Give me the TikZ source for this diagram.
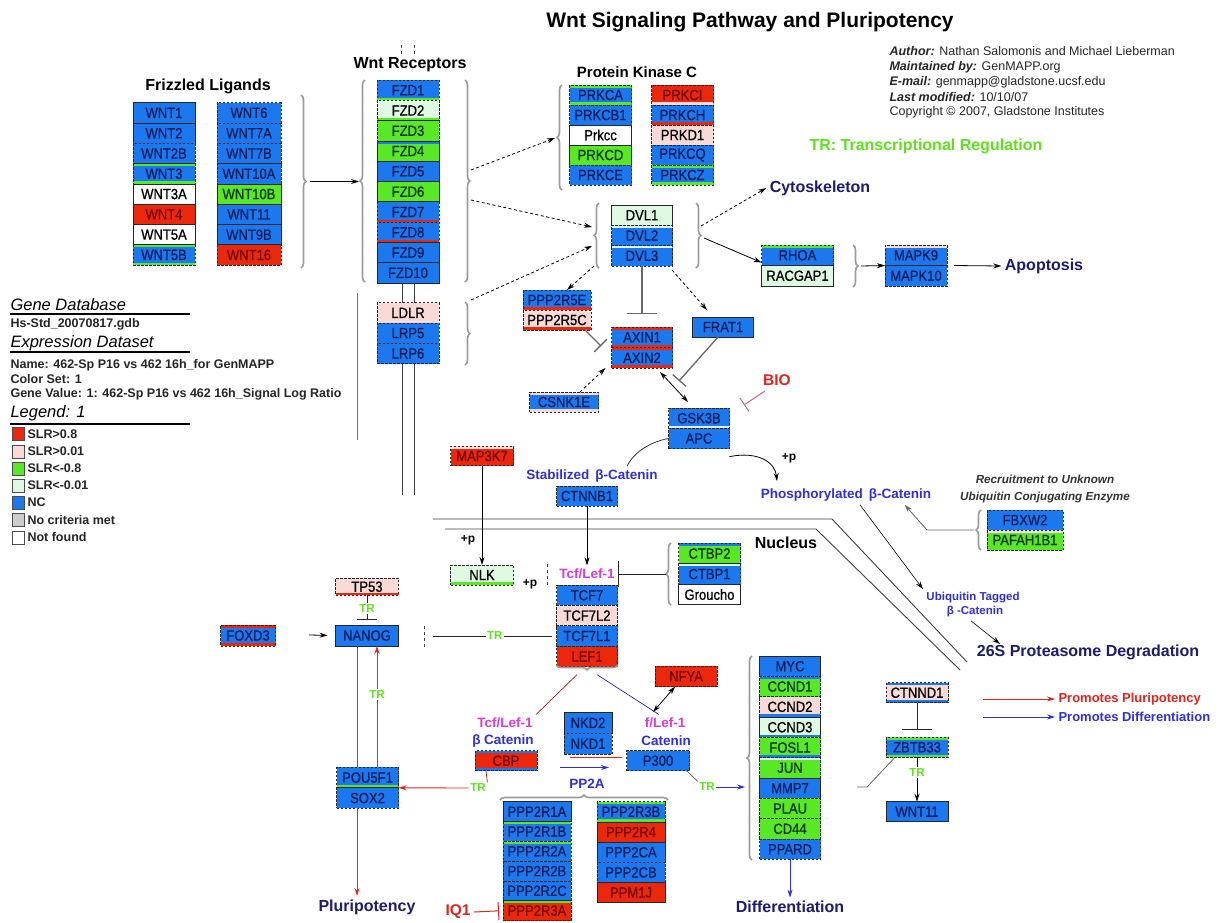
\documentclass[tikz,border=0pt]{standalone}
\usepackage{fontspec}
\setmainfont{Liberation Sans}
\newfontfamily\genefont{Liberation Sans}[FakeStretch=0.88,FakeBold=0.8]
\usetikzlibrary{arrows.meta,decorations.pathreplacing}
\definecolor{cNC}{RGB}{28,120,238}
\definecolor{cUP}{RGB}{236,40,12}
\definecolor{cUPL}{RGB}{250,218,215}
\definecolor{cDN}{RGB}{88,232,38}
\definecolor{cDNL}{RGB}{222,250,226}
\definecolor{cNO}{RGB}{205,205,205}
\definecolor{tNC}{RGB}{12,28,88}
\definecolor{tUP}{RGB}{110,8,0}
\definecolor{tDN}{RGB}{10,50,10}
\definecolor{cnavy}{RGB}{28,28,112}
\definecolor{cblue}{RGB}{48,48,215}
\definecolor{cmag}{RGB}{215,60,215}
\definecolor{cgreen}{RGB}{95,225,30}
\definecolor{cred}{RGB}{220,38,30}
\definecolor{cgray}{RGB}{155,155,155}
\definecolor{cline}{RGB}{105,105,105}
\definecolor{cpink}{RGB}{195,110,130}
\newcommand\myfs[1]{\fontsize{#1}{#1}\selectfont}
\newcommand\gn[6]{\node[gene,#4,minimum width=#5pt] (#1) at (#2,#3) {#6};}
\begin{document}
\begin{tikzpicture}[x=1pt,y=-1pt,
  gene/.style={rectangle,draw=black!85,line width=0.8pt,outer sep=0pt,inner sep=0pt,minimum height=20.3pt,font=\genefont\myfs{14.8}},
  nc/.style={fill=cNC,text=tNC},
  up/.style={fill=cUP,text=tUP},
  upl/.style={fill=cUPL,text=black},
  dn/.style={fill=cDN,text=tDN},
  dnl/.style={fill=cDNL,text=black},
  nf/.style={fill=white,text=black},
  dsh/.style={dash pattern=on 2.5pt off 1.5pt},
  stp/.style 2 args={path picture={
     \path[fill=#1] (path picture bounding box.north west) rectangle ([yshift=-2.6pt]path picture bounding box.north east);
     \path[fill=#2] (path picture bounding box.south west) rectangle ([yshift=2.6pt]path picture bounding box.south east);}},
  st/.style={stp={#1}{none}},
  sb/.style={stp={none}{#1}},
  h20/.style={minimum height=20pt},
  br/.style={draw=cgray,line width=1.6pt,decorate,decoration={brace,amplitude=5pt}},
  hdr/.style={font=\bfseries\myfs{#1}},
  navyl/.style={font=\bfseries\myfs{16},text=cnavy},
  bluel/.style={font=\bfseries\myfs{13.5},text=cblue},
  magl/.style={font=\bfseries\myfs{13.5},text=cmag},
  trl/.style={font=\bfseries\myfs{11.5},text=cgreen,fill=white,inner sep=1.5pt},
  pl/.style={font=\bfseries\myfs{12}},
  arr/.style={draw=black,line width=0.8pt,-{Stealth[length=8pt,width=5pt]}},
  darr/.style={arr,dash pattern=on 3pt off 2.5pt},
  arr2/.style={draw=black,line width=0.8pt,{Stealth[length=8pt,width=5pt]}-{Stealth[length=8pt,width=5pt]}},
  redarr/.style={draw=cred,line width=0.9pt,-{Stealth[length=8pt,width=5pt]}},
  bluarr/.style={draw=cblue,line width=0.9pt,-{Stealth[length=8pt,width=5pt]}},
  inh/.style={line width=1.3pt,-{Bar[width=#1]}},
  memb/.style={draw=black!75,line width=0.9pt},
  lsq/.style={draw=black!70,line width=0.6pt,minimum width=12pt,minimum height=13pt,inner sep=0pt},
  lgt/.style={anchor=west,font=\bfseries\myfs{12.5},text=black!85},
  lgh/.style={anchor=west,font=\itshape\myfs{16.5}},
  aut/.style={anchor=west,font=\myfs{12.5},text=black!85}
]
\useasboundingbox (0,0) rectangle (1221,922);
\fill[white] (0,0) rectangle (1221,922);

% ---------- title and author ----------
\node[font=\bfseries\myfs{21}] (title) at (750,22) {Wnt Signaling Pathway and Pluripotency};
\node[aut] (au1) at (886,51) {\textbf{\textit{Author:}} Nathan Salomonis and Michael Lieberman};
\node[aut] (au2) at (886,67) {\textbf{\textit{Maintained by:}} GenMAPP.org};
\node[aut] (au3) at (886,82) {\textbf{\textit{E-mail:}} genmapp@gladstone.ucsf.edu};
\node[aut] (au4) at (886,97) {\textbf{\textit{Last modified:}} 10/10/07};
\node[aut] (au5) at (886,112) {Copyright © 2007, Gladstone Institutes};
\node[font=\bfseries\myfs{16},text=cgreen] (trh) at (926,146) {TR: Transcriptional Regulation};

% ---------- left legend ----------
\node[lgh] (lgGD) at (7,305) {Gene Database};
\draw[line width=2pt] (10,313.5) -- (190,313.5);
\node[lgt] (lgDB) at (7,324) {Hs-Std\_20070817.gdb};
\node[lgh] (lgED) at (7,343) {Expression Dataset};
\draw[line width=2pt] (10,352) -- (190,352);
\node[lgt] (lgN) at (7,365) {Name: 462-Sp P16 vs 462 16h\_for GenMAPP};
\node[lgt] (lgC) at (7,379.5) {Color Set: 1};
\node[lgt] (lgV) at (7,394) {Gene Value: 1: 462-Sp P16 vs 462 16h\_Signal Log Ratio};
\node[lgh] (lgL) at (7,413) {Legend: 1};
\draw[line width=2pt] (10,423.5) -- (190,423.5);
\node[lsq,fill=cUP] (sq1) at (18.5,434) {};
\node[lgt] (lg1) at (24,434) {SLR>0.8};
\node[lsq,fill=cUPL] (sq2) at (18.5,451.5) {};
\node[lgt] (lg2) at (24,451.5) {SLR>0.01};
\node[lsq,fill=cDN] (sq3) at (18.5,468.5) {};
\node[lgt] (lg3) at (24,468.5) {SLR<-0.8};
\node[lsq,fill=cDNL] (sq4) at (18.5,485.5) {};
\node[lgt] (lg4) at (24,485.5) {SLR<-0.01};
\node[lsq,fill=cNC] (sq5) at (18.5,502.5) {};
\node[lgt] (lg5) at (24,502.5) {NC};
\node[lsq,fill=cNO] (sq6) at (18.5,520) {};
\node[lgt] (lg6) at (24,520) {No criteria met};
\node[lsq,fill=white] (sq7) at (18.5,537.5) {};
\node[lgt] (lg7) at (24,537.5) {Not found};

% ---------- Frizzled ligands ----------
\node[hdr=16] (tFL) at (208,86) {Frizzled Ligands};
\gn{WNT1}{164}{112.85}{nc}{62}{WNT1}
\gn{WNT2}{164}{133.15}{nc}{62}{WNT2}
\gn{WNT2B}{164}{153.45}{nc,dsh}{62}{WNT2B}
\gn{WNT3}{164}{173.75}{nc,dsh,stp={cDN}{cDN}}{62}{WNT3}
\gn{WNT3A}{164}{194.05}{nf}{62}{WNT3A}
\gn{WNT4}{164}{214.35}{up}{62}{WNT4}
\gn{WNT5A}{164}{234.65}{nf}{62}{WNT5A}
\gn{WNT5B}{164}{254.95}{nc,dsh,stp={cDN}{cDN}}{62}{WNT5B}
\gn{WNT6}{249}{112.85}{nc,dsh}{64}{WNT6}
\gn{WNT7A}{249}{133.15}{nc,dsh}{64}{WNT7A}
\gn{WNT7B}{249}{153.45}{nc,dsh}{64}{WNT7B}
\gn{WNT10A}{249}{173.75}{nc,dsh}{64}{WNT10A}
\gn{WNT10B}{249}{194.05}{dn}{64}{WNT10B}
\gn{WNT11L}{249}{214.35}{nc}{64}{WNT11}
\gn{WNT9B}{249}{234.65}{nc}{64}{WNT9B}
\gn{WNT16}{249}{254.95}{up,dsh}{64}{WNT16}
\draw[br] (301,95) -- (301,268);
\coordinate (ligTip) at (310,181.5);
\coordinate (recTip) at (359,181.5);
\draw[arr] (ligTip) -- (recTip);

% ---------- Wnt receptors ----------
\node[hdr=16] (tWR) at (410,65) {Wnt Receptors};
\draw[memb,dashed] (401,45) -- (401,57);
\draw[memb,dashed] (414,45) -- (414,57);
\draw[memb] (402,283) -- (402,303);
\draw[memb] (414,283) -- (414,303);
\draw[memb] (402,363) -- (402,495);
\draw[memb] (414,363) -- (414,495);
\draw[draw=black!55,line width=0.8pt] (357,293) -- (357,440);
\gn{FZD1}{408}{90.15}{nc,dsh,sb=cDN}{62}{FZD1}
\gn{FZD2}{408}{110.45}{dnl,dsh,sb=cDN}{62}{FZD2}
\gn{FZD3}{408}{130.75}{dn,dsh}{62}{FZD3}
\gn{FZD4}{408}{151.05}{dn,st=cNC}{62}{FZD4}
\gn{FZD5}{408}{171.35}{nc}{62}{FZD5}
\gn{FZD6}{408}{191.65}{dn}{62}{FZD6}
\gn{FZD7}{408}{211.95}{nc,dsh,sb=cUP}{62}{FZD7}
\gn{FZD8}{408}{232.25}{nc,dsh,sb=cUP}{62}{FZD8}
\gn{FZD9}{408}{252.55}{nc}{62}{FZD9}
\gn{FZD10}{408}{272.85}{nc}{62}{FZD10}
\gn{LDLR}{408}{312.85}{upl,dsh}{62}{LDLR}
\gn{LRP5}{408}{333.15}{nc,dsh}{62}{LRP5}
\gn{LRP6}{408}{353.45}{nc,dsh}{62}{LRP6}
\draw[br] (365,282) -- (365,80);
\draw[br] (465,80) -- (465,282);
\draw[br] (465,302) -- (465,365);

% ---------- Protein kinase C ----------
\node[hdr=15] (tPKC) at (637,72) {Protein Kinase C};
\gn{PRKCA}{600.5}{95}{nc,dsh,h20,stp={cDN}{cDN}}{62}{PRKCA}
\gn{PRKCB1}{600.5}{115}{nc,dsh,h20}{62}{PRKCB1}
\gn{Prkcc}{600.5}{135}{nf,h20}{62}{Prkcc}
\gn{PRKCD}{600.5}{155}{dn,h20}{62}{PRKCD}
\gn{PRKCE}{600.5}{175}{nc,dsh,h20}{62}{PRKCE}
\gn{PRKCI}{682.5}{95}{up,dsh,h20,sb=cUPL}{62}{PRKCI}
\gn{PRKCH}{682.5}{115}{nc,dsh,h20,sb=cUP}{62}{PRKCH}
\gn{PRKD1}{682.5}{135}{upl,dsh,h20}{62}{PRKD1}
\gn{PRKCQ}{682.5}{155}{nc,dsh,h20}{62}{PRKCQ}
\gn{PRKCZ}{682.5}{175}{nc,dsh,h20,stp={cDN}{cDN}}{62}{PRKCZ}
\draw[br] (562,190) -- (562,85);
\coordinate (fzA) at (471,170);
\coordinate (fzB) at (471,200);
\coordinate (ldA) at (471,300);
\coordinate (pkcTip) at (555,138);
\coordinate (dvlTipA) at (592,227);
\coordinate (dvlTipB) at (592,246);
\draw[darr] (fzA) -- (pkcTip);
\draw[darr] (fzB) -- (dvlTipA);
\draw[darr] (ldA) -- (dvlTipB);

% ---------- DVL ----------
\gn{DVL1}{642}{215.15}{dnl}{61}{DVL1}
\gn{DVL2}{642}{235.45}{nc,dsh,st=cDNL}{61}{DVL2}
\gn{DVL3}{642}{255.75}{nc,dsh,st=cDNL}{61}{DVL3}
\draw[br] (599,268) -- (599,203);
\draw[br] (696,203) -- (696,268);
\node[navyl] (tCyto) at (820,188) {Cytoskeleton};
\coordinate (dvlR1) at (701,226);
\coordinate (dvlR2) at (704,238);
\draw[darr] (dvlR1) -- (tCyto.west);
\gn{RHOA}{797.5}{255.25}{nc,dsh,st=cDN,minimum height=20.5pt}{72}{RHOA}
\gn{RACGAP1}{797.5}{275.75}{dnl,minimum height=20.5pt}{72}{RACGAP1}
\draw[arr] (dvlR2) -- ([yshift=3pt]RHOA.south west);
\draw[br] (853,245) -- (853,287);
\gn{MAPK9}{916}{255.25}{nc,dsh,st=cUPL,minimum height=20.5pt}{62}{MAPK9}
\gn{MAPK10}{916}{275.75}{nc,dsh,minimum height=20.5pt}{62}{MAPK10}
\coordinate (rhoTip) at (861,266);
\draw[arr] (rhoTip) -- (MAPK9.south west);
\node[navyl] (tApop) at (1044,266) {Apoptosis};
\draw[arr] ([xshift=7pt]MAPK9.south east) -- (tApop.west);

% ---------- destruction complex ----------
\gn{PPP2R5E}{557}{300}{nc,dsh,h20,sb=cUP}{68}{PPP2R5E}
\gn{PPP2R5C}{557}{320}{upl,dsh,h20,sb=cUP}{68}{PPP2R5C}
\coordinate (dvlBL) at (594,266);
\draw[darr] (dvlBL) -- ([xshift=10pt]PPP2R5E.north);
\gn{AXIN1}{642}{337.25}{nc,dsh,minimum height=20.5pt,stp={cUP}{cUP}}{61}{AXIN1}
\gn{AXIN2}{642}{357.75}{nc,dsh,minimum height=20.5pt,stp={cUP}{cUP}}{61}{AXIN2}
\draw[inh=30pt,draw=cline,shorten >=13pt] (DVL3.south) -- (AXIN1.north);
\gn{FRAT1}{723}{327}{nc,h20}{61}{FRAT1}
\coordinate (dvlBR) at (672,270);
\draw[darr] (dvlBR) -- ([xshift=-16pt,yshift=7pt]FRAT1.north);
\coordinate (p5cI) at (601,346);
\draw[inh=18pt,draw=cline] ([xshift=-6pt]PPP2R5C.south east) -- (p5cI);
\gn{CSNK1E}{564}{402}{nc,dsh,h20,stp={cUPL}{cUPL}}{69}{CSNK1E}
\draw[darr] ([xshift=16pt]CSNK1E.north) -- ([xshift=-6pt]AXIN2.south west);
\gn{GSK3B}{699}{418.15}{nc,dsh,sb=cDNL}{61}{GSK3B}
\gn{APC}{699}{438.45}{nc,dsh}{61}{APC}
\draw[arr2] ([xshift=18pt,yshift=-4pt]AXIN2.south) -- ([xshift=-11pt,yshift=6pt]GSK3B.north);
\coordinate (fraI) at (679,381);
\draw[inh=18pt,draw=cline] ([xshift=-5pt]FRAT1.south) -- (fraI);
\node[font=\bfseries\myfs{15.5},text=cred] (tBIO) at (777,380) {BIO};
\coordinate (bioI) at (744,405);
\draw[inh=16pt,draw=cpink,line width=1pt] ([xshift=-12pt,yshift=-11pt]tBIO.center) -- (bioI);

% ---------- beta-catenin ----------
\node[bluel] (tStab) at (592,476) {Stabilized\, β-Catenin};
\draw[draw=black!80,line width=0.8pt] (APC.west) .. controls (650,442) and (634,452) .. ([xshift=35pt]tStab.north);
\node[pl] (tP1) at (789,458) {+p};
\node[bluel] (tPhos) at (846,495) {Phosphorylated\, β-Catenin};
\coordinate (phosIn) at (777,481);
\draw[arr] ([yshift=-8pt]APC.south east) .. controls (758,451) and (775,462) .. (phosIn);
\gn{CTNNB1}{587}{496}{nc,dsh,h20}{61}{CTNNB1}
\gn{MAP3K7}{482}{456}{up,dsh,st=cUPL,minimum height=19.5pt}{63}{MAP3K7}
\gn{NLK}{482}{575}{dnl,dsh,h20,sb=cDN}{63}{NLK}
\draw[arr] (MAP3K7.south) -- (NLK.north);
\node[pl] (tP2) at (468,540) {+p};
\node[pl] (tP3) at (530,584) {+p};
\draw[memb,dashed] (547,564) -- (547,586);
\draw[memb,dashed] (424,626) -- (424,647);

% ---------- nucleus membrane ----------
\draw[memb] (433,519) -- (832,519) -- (967,662);
\draw[memb] (445,529) -- (816,529) -- (960,670);
\node[hdr=16] (tNuc) at (786,543) {Nucleus};

% ---------- TCF / LEF ----------
\node[magl] (tTcf) at (587,574) {Tcf/Lef-1};
\draw[arr] (CTNNB1.south) -- (tTcf.north);
\gn{TCF7}{587}{595.2}{nc,dsh,minimum height=20.4pt}{61}{TCF7}
\gn{TCF7L2}{587}{615.6}{upl,dsh,minimum height=20.4pt}{61}{TCF7L2}
\gn{TCF7L1}{587}{636}{nc,dsh,minimum height=20.4pt}{61}{TCF7L1}
\gn{LEF1}{587}{656.4}{up,dsh,minimum height=20.4pt}{61}{LEF1}
\draw[br] (618,665) -- (556,665);
\gn{CTBP2}{709.5}{553.55}{dn,dsh,st=cNC,minimum height=20.5pt}{62}{CTBP2}
\gn{CTBP1}{709.5}{574.05}{nc,dsh,st=cDNL,minimum height=20.5pt}{62}{CTBP1}
\gn{Groucho}{709.5}{594.55}{nf,minimum height=20.5pt}{62}{Groucho}
\draw[br] (671,605) -- (671,543);
\coordinate (ctbTip) at (666,574);
\draw[inh=26pt,draw=black!85,line width=1pt] (ctbTip) -- (tTcf.east);

% ---------- NANOG / POU5F1 ----------
\gn{TP53}{367}{586.7}{upl,dsh,minimum height=17pt,sb=cUP}{63}{TP53}
\gn{NANOG}{367}{635.5}{nc,minimum height=21pt}{63}{NANOG}
\gn{FOXD3}{248}{635.5}{nc,dsh,minimum height=21pt,stp={cUP}{cUP}}{55}{FOXD3}
\draw[inh=20pt,draw=black!85,line width=1pt,shorten >=5pt] (TP53.south) -- node[trl,pos=0.45] (trTP) {TR} (NANOG.north);
\coordinate (foxA) at (309,635);
\draw[arr,shorten >=8pt] (foxA) -- (NANOG.west);
\coordinate (nanR) at (433,636);
\draw[line width=0.8pt,draw=black!85,shorten >=5pt] (nanR) -- node[trl] (trNT) {TR} (TCF7L1.west);
\gn{POU5F1}{367.5}{777.55}{nc,dsh,sb=cDN,minimum height=20.5pt}{62}{POU5F1}
\gn{SOX2}{367.5}{798.05}{nc,dsh,minimum height=20.5pt}{62}{SOX2}
\draw[draw=cred,line width=0.9pt] ([xshift=-10pt]NANOG.south) -- ([xshift=-10.5pt]POU5F1.north);
\draw[redarr] ([xshift=9.5pt]POU5F1.north) -- node[trl,pos=0.6] (trNP) {TR} ([xshift=10pt]NANOG.south);
\node[navyl] (tPluri) at (367,907) {Pluripotency};
\draw[redarr] ([xshift=-10.5pt]SOX2.south) -- ([xshift=-10pt]tPluri.north);

% ---------- CBP / P300 ----------
\node[magl] (tTcfL) at (505,723) {Tcf/Lef-1};
\node[bluel] (tBcL) at (503,741) {β Catenin};
\gn{CBP}{506}{760.7}{up,dsh,h20,stp={cNC}{cNC}}{62}{CBP}
\node[magl] (tTcfR) at (665,723) {f/Lef-1};
\node[bluel] (tBcR) at (666,741) {Catenin};
\gn{P300}{658}{760.7}{nc,dsh,h20}{63}{P300}
\draw[draw=cred!80!black,line width=0.7pt] ([xshift=-10pt,yshift=-8pt]LEF1.south) -- (tTcfL.north east);
\draw[draw=cblue!80!black,line width=0.7pt] ([xshift=10pt,yshift=-8pt]LEF1.south) -- ([xshift=-30pt]tTcfR.north east);
\gn{NKD2}{588}{722.8}{nc,minimum height=21pt}{48}{NKD2}
\gn{NKD1}{588}{743.8}{nc,dsh,minimum height=21pt}{48}{NKD1}
\coordinate (nkR1) at (570,757.5);
\coordinate (nkR2) at (622,757.5);
\draw[draw=cred,line width=0.9pt] (nkR1) -- (nkR2);
\coordinate (nkB1) at (560,767.5);
\coordinate (nkB2) at (609,767.5);
\draw[bluarr] (nkB1) -- (nkB2);
\gn{NFYA}{686}{676.3}{up,dsh,minimum height=20.7pt}{62}{NFYA}
\coordinate (nfyE) at (653,712);
\draw[arr2] ([xshift=-11pt]NFYA.south) -- (nfyE);
\node[trl] (trC) at (478,788) {TR};
\draw[draw=cred!80!black,line width=0.7pt] ([xshift=-20pt]CBP.south) -- (trC.north east);
\draw[redarr] (trC.west) -- (SOX2.north east);
\node[trl] (trD) at (707,787) {TR};
\draw[draw=black!60,line width=0.8pt] ([xshift=-3pt]P300.south east) -- (trD.north west);

% ---------- PP2A ----------
\node[bluel] (tPP2A) at (587,784) {PP2A};
\draw[br] (500,800) -- (668,800);
\gn{PPP2R1A}{537}{811.6}{nc,minimum height=19.8pt}{68}{PPP2R1A}
\gn{PPP2R1B}{537}{831.4}{nc,dsh,st=cDN,minimum height=19.8pt}{68}{PPP2R1B}
\gn{PPP2R2A}{537}{851.2}{nc,dsh,st=cDN,minimum height=19.8pt}{68}{PPP2R2A}
\gn{PPP2R2B}{537}{871}{nc,dsh,minimum height=19.8pt}{68}{PPP2R2B}
\gn{PPP2R2C}{537}{890.8}{nc,dsh,minimum height=19.8pt}{68}{PPP2R2C}
\gn{PPP2R3A}{537}{910.6}{up,dsh,st=cDN,minimum height=19.8pt}{68}{PPP2R3A}
\gn{PPP2R3B}{631}{811.8}{nc,dsh,stp={cDN}{cDN},minimum height=20.2pt}{68}{PPP2R3B}
\gn{PPP2R4}{631}{832}{up,minimum height=20.2pt}{68}{PPP2R4}
\gn{PPP2CA}{631}{852.2}{nc,minimum height=20.2pt}{68}{PPP2CA}
\gn{PPP2CB}{631}{872.4}{nc,dsh,minimum height=20.2pt}{68}{PPP2CB}
\gn{PPM1J}{631}{892.6}{up,minimum height=20.2pt}{68}{PPM1J}
\node[font=\bfseries\myfs{15.5},text=cred] (tIQ1) at (458,912) {IQ1};
\draw[inh=18pt,draw=cred,line width=1pt,shorten >=4pt] (tIQ1.east) -- (PPP2R3A.west);

% ---------- differentiation targets ----------
\gn{MYC}{790}{666.2}{nc,minimum height=20.33pt}{61}{MYC}
\gn{CCND1}{790}{686.5}{dn,dsh,st=cNC,minimum height=20.33pt}{61}{CCND1}
\gn{CCND2}{790}{706.8}{upl,dsh,sb=cNC,minimum height=20.33pt}{61}{CCND2}
\gn{CCND3}{790}{727.2}{dnl,sb=cNC,minimum height=20.33pt}{61}{CCND3}
\gn{FOSL1}{790}{747.5}{dn,dsh,sb=cNC,minimum height=20.33pt}{61}{FOSL1}
\gn{JUN}{790}{767.8}{dn,dsh,st=cDNL,minimum height=20.33pt}{61}{JUN}
\gn{MMP7}{790}{788.2}{nc,minimum height=20.33pt}{61}{MMP7}
\gn{PLAU}{790}{808.5}{dn,dsh,minimum height=20.33pt}{61}{PLAU}
\gn{CD44}{790}{828.8}{dn,dsh,minimum height=20.33pt}{61}{CD44}
\gn{PPARD}{790}{849.2}{nc,dsh,minimum height=20.33pt}{61}{PPARD}
\draw[br] (752,860) -- (752,656);
\coordinate (difTip) at (745,787);
\draw[bluarr] (trD.east) -- (difTip);
\node[navyl] (tDiff) at (790,907) {Differentiation};
\draw[bluarr] (PPARD.south) -- (tDiff.north);

% ---------- CTNND1 / ZBTB33 ----------
\gn{CTNND1}{917}{692.7}{upl,dsh,h20,stp={cNC}{cNC}}{62}{CTNND1}
\gn{ZBTB33}{917}{747.3}{nc,dsh,h20,stp={cDN}{cDN}}{62}{ZBTB33}
\gn{WNT11}{917}{811.7}{nc,h20}{62}{WNT11}
\draw[inh=30pt,draw=black!85,line width=1pt,shorten >=7pt] (CTNND1.south) -- (ZBTB33.north);
\draw[arr] (ZBTB33.south) -- node[trl,pos=0.35] (trZ) {TR} (WNT11.north);
\coordinate (zl1) at (857,787);
\coordinate (zl2) at (867,787);
\draw[draw=black!60,line width=0.8pt] (zl1) -- (zl2) -- ([xshift=9pt]ZBTB33.south west);

% ---------- ubiquitin / proteasome ----------
\node[font=\bfseries\itshape\myfs{11.7},text=black!80] (tRec1) at (1045,479) {Recruitment to Unknown};
\node[font=\bfseries\itshape\myfs{11.7},text=black!80] (tRec2) at (1045,497) {Ubiquitin Conjugating Enzyme};
\gn{FBXW2}{1025}{520}{nc,dsh,h20}{76}{FBXW2}
\gn{PAFAH1B1}{1025}{540}{dn,dsh,h20,st=cUPL}{76}{PAFAH1B1}
\draw[br] (981,550) -- (981,510);
\coordinate (fbTip) at (974,530);
\coordinate (fbK) at (927,530);
\draw[arr,draw=black!60] (fbTip) -- (fbK) -- ([xshift=-30pt]tPhos.south east);
\node[font=\bfseries\myfs{11.5},text=cblue] (tUbi1) at (973,598) {Ubiquitin Tagged};
\node[font=\bfseries\myfs{11.5},text=cblue] (tUbi2) at (975,612) {β -Catenin};
\draw[arr,line width=0.6pt] ([xshift=14pt]tPhos.south) -- (tUbi1.north west);
\node[navyl] (tProt) at (1088,652) {26S Proteasome Degradation};
\draw[arr,line width=0.6pt] ([xshift=-4pt]tUbi2.south) -- ([xshift=-88pt,yshift=-3pt]tProt.north);

% ---------- arrow legend ----------
\coordinate (lgR1) at (983,699);
\coordinate (lgB1) at (983,717);
\node[anchor=west,font=\bfseries\myfs{13},text=cred] (tPP) at (1055,699) {Promotes Pluripotency};
\node[anchor=west,font=\bfseries\myfs{13},text=cblue] (tPD) at (1055,717) {Promotes Differentiation};
\draw[redarr] (lgR1) -- (tPP.west);
\draw[bluarr] (lgB1) -- (tPD.west);
\end{tikzpicture}
\end{document}
